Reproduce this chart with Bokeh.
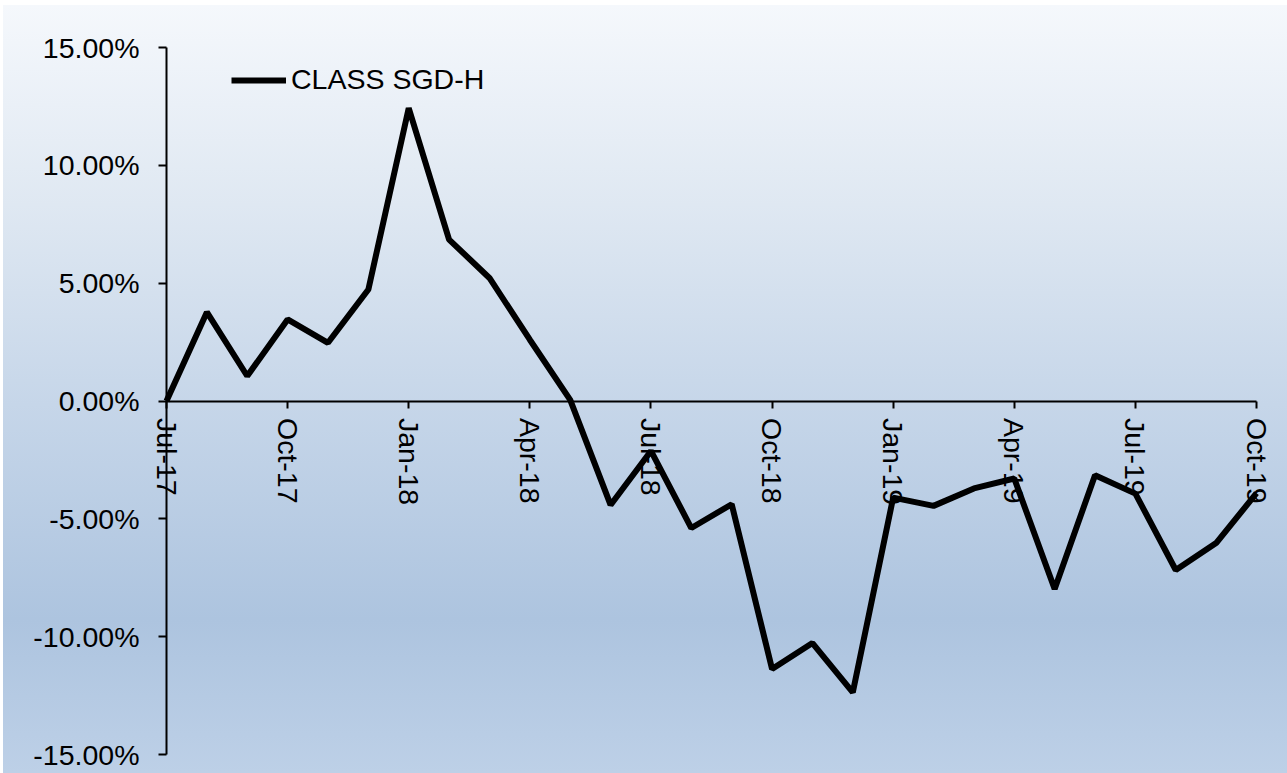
from bokeh.plotting import figure
from bokeh.models import (Range1d, FixedTicker, PrintfTickFormatter, Legend, LegendItem,
                          InlineStyleSheet, ColumnDataSource)
from bokeh.embed import file_html
from bokeh.resources import INLINE

months = ["Jul-17", "Aug-17", "Sep-17", "Oct-17", "Nov-17", "Dec-17",
          "Jan-18", "Feb-18", "Mar-18", "Apr-18", "May-18", "Jun-18",
          "Jul-18", "Aug-18", "Sep-18", "Oct-18", "Nov-18", "Dec-18",
          "Jan-19", "Feb-19", "Mar-19", "Apr-19", "May-19", "Jun-19",
          "Jul-19", "Aug-19", "Sep-19", "Oct-19"]
sgd_h = [0.00, 3.77, 1.06, 3.46, 2.47, 4.73,
         12.43, 6.85, 5.22, 2.60, 0.05, -4.41,
         -2.12, -5.39, -4.38, -11.37, -10.27, -12.36,
         -4.10, -4.45, -3.71, -3.29, -7.98, -3.15,
         -3.93, -7.17, -6.03, -3.91]
series_name = "CLASS SGD-H"
tick_labels = ["Jul-17", "Oct-17", "Jan-18", "Apr-18", "Jul-18",
               "Oct-18", "Jan-19", "Apr-19", "Jul-19", "Oct-19"]
y_ticks = [-15, -10, -5, 0, 5, 10, 15]

idx = list(range(len(months)))
tick_pos = [months.index(t) for t in tick_labels]

# layout (pixels) of the plotting area inside the 1287x773 canvas
W, H = 1287, 773
X0, X1 = 166, 1256      # pixel of first / last month
YT, YB = 47, 754        # pixel of +15% / -15%
n = len(months) - 1
ppx = (X1 - X0) / n
ppy = (YB - YT) / (y_ticks[-1] - y_ticks[0])
x_range = Range1d(-X0 / ppx, n + (W - X1) / ppx)
y_range = Range1d(y_ticks[0] - (H - YB) / ppy, y_ticks[-1] + YT / ppy)

FONT = "Liberation Sans"
FS = "28.5px"

css = InlineStyleSheet(css=""":host {
 background-color: white;
 background-image: linear-gradient(to bottom,
   #f5f8fc 0%, #dfe8f2 26%, #c6d6e9 52%, #adc4df 80%, #bdd0e7 100%);
 background-size: calc(100% - 3px) calc(100% - 5px);
 background-position: right bottom;
 background-repeat: no-repeat;
}""")

p = figure(width=W, height=H, output_backend="svg", toolbar_location=None,
           x_range=x_range, y_range=y_range, min_border=0,
           min_border_left=0, min_border_right=0, min_border_top=0,
           min_border_bottom=0, stylesheets=[css])
p.background_fill_alpha = 0
p.border_fill_alpha = 0
p.outline_line_color = None
p.xgrid.visible = False
p.ygrid.visible = False

src = ColumnDataSource(dict(x=idx, y=sgd_h, m=months))
r = p.line("x", "y", source=src, line_color="black", line_width=6, level="overlay")

xa = p.xaxis[0]
xa.fixed_location = 0
xa.bounds = (0, n)
xa.ticker = FixedTicker(ticks=tick_pos)
xa.major_label_overrides = {i: t for i, t in zip(tick_pos, tick_labels)}
xa.major_label_orientation = "vertical"
xa.minor_tick_line_color = None
xa.major_tick_in = 0
xa.major_tick_out = 7
xa.major_label_standoff = 10
xa.axis_line_width = 2
xa.major_tick_line_width = 2
xa.major_label_text_font = FONT
xa.major_label_text_font_size = FS
xa.major_label_text_color = "black"

ya = p.yaxis[0]
ya.fixed_location = 0
ya.bounds = (y_ticks[0], y_ticks[-1])
ya.ticker = FixedTicker(ticks=y_ticks)
ya.formatter = PrintfTickFormatter(format="%.2f%%")
ya.minor_tick_line_color = None
ya.major_tick_in = 0
ya.major_tick_out = 8
ya.major_label_standoff = 19
ya.axis_line_width = 2
ya.major_tick_line_width = 2
ya.major_label_text_font = FONT
ya.major_label_text_font_size = FS
ya.major_label_text_color = "black"

legend = Legend(items=[LegendItem(label=series_name, renderers=[r])],
                location=(231, 677), border_line_alpha=0, background_fill_alpha=0,
                glyph_width=55, label_standoff=5, padding=0, margin=0, spacing=0,
                label_text_font=FONT, label_text_font_size=FS, label_text_color="black")
p.add_layout(legend)

open("out.html", "w").write(file_html(p, INLINE))
